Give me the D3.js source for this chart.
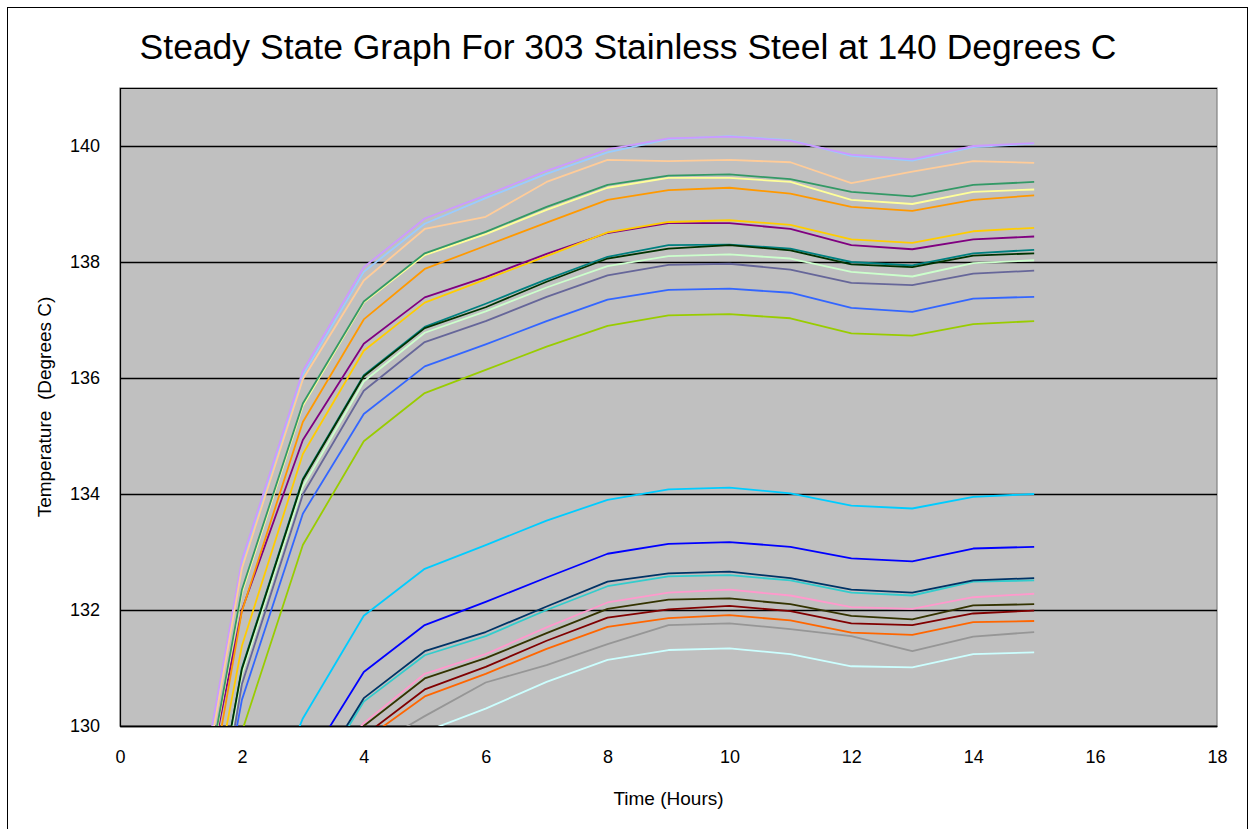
<!DOCTYPE html>
<html>
<head>
<meta charset="utf-8">
<script src="https://cdn.jsdelivr.net/npm/d3@7"></script>
<style>
body { margin: 0; background: #fff; }
svg text { font-family: "Liberation Sans", Arial, sans-serif; fill: #000; }
</style>
</head>
<body>
<div id="chart"></div>
<script>
// steady state readings, one value per hour (null = not logged yet)
var hours = [1, 2, 3, 4, 5, 6, 7, 8, 9, 10, 11, 12, 13, 14, 15];
var xTicks = [0, 2, 4, 6, 8, 10, 12, 14, 16, 18];
var yTicks = [130, 132, 134, 136, 138, 140];

var series1  = [126.74, 132.0, 134.93, 136.59, 137.39, 137.74, 138.14, 138.50, 138.67, 138.67, 138.57, 138.29, 138.22, 138.39, 138.44];
var series2  = [null, null, null, 129.83, 130.63, 131.02, 131.47, 131.87, 132.01, 132.07, 131.98, 131.77, 131.74, 131.94, 131.99];
var series3  = [125.1, 131.0, 134.26, 136.05, 136.88, 137.28, 137.70, 138.09, 138.29, 138.30, 138.23, 138.0, 137.94, 138.15, 138.21];
var series4  = [null, null, 129.24, 130.93, 131.74, 132.14, 132.56, 132.97, 133.14, 133.17, 133.09, 132.89, 132.84, 133.06, 133.09];
var series5  = [null, 127.53, 130.13, 131.90, 132.71, 133.12, 133.54, 133.90, 134.08, 134.11, 134.01, 133.80, 133.75, 133.95, 134.0];
var series6  = [null, null, null, null, 129.9, 130.30, 130.76, 131.14, 131.31, 131.34, 131.24, 131.03, 131.01, 131.24, 131.27];
var series7  = [124.9, 130.9, 134.13, 135.94, 136.78, 137.15, 137.56, 137.93, 138.10, 138.13, 138.06, 137.83, 137.75, 137.98, 138.03];
var series8  = [126.5, 132.3, 135.52, 137.30, 138.12, 138.48, 138.90, 139.28, 139.45, 139.45, 139.38, 139.07, 139.0, 139.21, 139.25];
var series9  = [126.9, 132.8, 136.05, 137.83, 138.66, 139.10, 139.52, 139.89, 140.12, 140.17, 140.10, 139.83, 139.75, 139.98, 140.04];
var series10 = [null, null, 128.8, 130.05, 130.90, 131.24, 131.70, 132.13, 132.30, 132.35, 132.25, 132.05, 132.02, 132.22, 132.28];
var series11 = [127.0, 132.86, 136.12, 137.91, 138.75, 139.15, 139.57, 139.94, 140.13, 140.16, 140.09, 139.85, 139.77, 140.0, 140.05];
var series12 = [126.74, 132.72, 135.98, 137.68, 138.57, 138.78, 139.38, 139.76, 139.74, 139.76, 139.72, 139.36, 139.56, 139.74, 139.71];
var series13 = [124.8, 130.45, 133.66, 135.38, 136.20, 136.58, 136.98, 137.35, 137.52, 137.54, 137.47, 137.21, 137.14, 137.37, 137.40];
var series14 = [null, null, 128.7, 130.42, 131.22, 131.55, 132.0, 132.41, 132.58, 132.60, 132.51, 132.30, 132.25, 132.49, 132.51];
var series15 = [124.0, 129.9, 133.12, 134.91, 135.74, 136.14, 136.54, 136.90, 137.08, 137.10, 137.03, 136.77, 136.73, 136.93, 136.98];
var series16 = [125.86, 131.38, 134.69, 136.47, 137.30, 137.70, 138.10, 138.51, 138.69, 138.72, 138.64, 138.39, 138.33, 138.53, 138.59];
var series17 = [125.98, 131.98, 135.24, 137.01, 137.88, 138.28, 138.68, 139.07, 139.24, 139.28, 139.18, 138.95, 138.88, 139.07, 139.15];
var series18 = [null, null, null, 129.75, 130.51, 130.90, 131.33, 131.71, 131.86, 131.91, 131.82, 131.61, 131.57, 131.79, 131.81];
var series19 = [124.46, 130.72, 133.99, 135.78, 136.62, 136.98, 137.40, 137.77, 137.95, 137.97, 137.87, 137.64, 137.60, 137.80, 137.85];
var series20 = [null, null, null, 129.56, 130.17, 130.75, 131.05, 131.41, 131.74, 131.77, 131.67, 131.55, 131.29, 131.54, 131.62];
var series21 = [null, null, 128.77, 130.48, 131.29, 131.62, 132.06, 132.49, 132.63, 132.66, 132.55, 132.35, 132.30, 132.51, 132.55];
var series22 = [126.55, 132.35, 135.56, 137.32, 138.15, 138.52, 138.95, 139.33, 139.49, 139.51, 139.43, 139.21, 139.13, 139.33, 139.38];
var series23 = [125.2, 130.98, 134.24, 136.03, 136.86, 137.22, 137.66, 138.06, 138.23, 138.29, 138.20, 137.96, 137.91, 138.11, 138.15];
var series24 = [null, null, 128.8, 130.0, 130.82, 131.17, 131.60, 132.02, 132.18, 132.20, 132.10, 131.90, 131.84, 132.08, 132.10];

var allSeries = [series1, series2, series3, series4, series5, series6, series7, series8,
	series9, series10, series11, series12, series13, series14, series15, series16,
	series17, series18, series19, series20, series21, series22, series23, series24];

// excel default line colours, same order as the series
var colors = ['#800080', '#800000', '#008080', '#0000FF', '#00CCFF', '#CCFFFF', '#CCFFCC', '#FFFF99',
	'#99CCFF', '#FF99CC', '#CC99FF', '#FFCC99', '#3366FF', '#33CCCC', '#99CC00', '#FFCC00',
	'#FF9900', '#FF6600', '#666699', '#969696', '#003366', '#339966', '#003300', '#333300'];

var W = 1250, H = 829;
// note: "top" is taken by window.top, so use other names
var plotL = 120, plotR = 1217, plotT = 88, plotB = 726;

var svg = d3.select('#chart').append('svg')
	.attr('width', W)
	.attr('height', H);

// outer chart frame
svg.append('rect')
	.attr('x', 7.5).attr('y', 7.5)
	.attr('width', 1240).attr('height', 840)
	.attr('fill', '#fff')
	.attr('stroke', '#000')
	.attr('stroke-width', 1);

var xScale = d3.scaleLinear().domain([0, 18]).range([plotL, plotR]);
var yScale = d3.scaleLinear().domain([130, 141]).range([plotB, plotT]);

// plot area
svg.append('rect')
	.attr('x', plotL).attr('y', plotT)
	.attr('width', plotR - plotL).attr('height', plotB - plotT)
	.attr('fill', '#C0C0C0')
	.attr('stroke', '#808080')
	.attr('stroke-width', 1.2);

// gridlines + y labels
var yAxis = svg.append('g')
	.attr('transform', 'translate(' + plotL + ',0)')
	.call(d3.axisLeft(yScale).tickValues(yTicks).tickSize(-(plotR - plotL)).tickPadding(20).tickFormat(d3.format('d')));
yAxis.select('.domain').attr('stroke', '#000').attr('stroke-width', 1.2);
yAxis.selectAll('.tick line').attr('stroke', '#000').attr('stroke-width', 1.3);
yAxis.selectAll('.tick text').attr('font-size', 18).attr('font-family', '"Liberation Sans", Arial, sans-serif');

var xAxis = svg.append('g')
	.attr('transform', 'translate(0,' + plotB + ')')
	.call(d3.axisBottom(xScale).tickValues(xTicks).tickSize(0).tickPadding(24).tickFormat(d3.format('d')));
xAxis.select('.domain').attr('stroke', '#000').attr('stroke-width', 1.3);
xAxis.selectAll('.tick text').attr('font-size', 18).attr('font-family', '"Liberation Sans", Arial, sans-serif');

svg.append('clipPath').attr('id', 'plotClip')
	.append('rect')
	.attr('x', plotL).attr('y', plotT)
	.attr('width', plotR - plotL).attr('height', plotB - plotT);

var line = d3.line()
	.defined(function(d){ return d != null; })
	.x(function(d, i){ return xScale(hours[i]); })
	.y(function(d){ return yScale(d); });

svg.append('g')
	.attr('clip-path', 'url(#plotClip)')
	.selectAll('path')
	.data(allSeries)
	.enter()
	.append('path')
	.attr('d', line)
	.attr('fill', 'none')
	.attr('stroke', function(d, i){ return colors[i]; })
	.attr('stroke-width', 1.8)
	.attr('stroke-linejoin', 'round');

// titles
svg.append('text')
	.attr('x', 628).attr('y', 59)
	.attr('text-anchor', 'middle')
	.attr('font-size', 35.5)
	.text('Steady State Graph For 303 Stainless Steel at 140 Degrees C');

svg.append('text')
	.attr('x', (plotL + plotR) / 2).attr('y', 805)
	.attr('text-anchor', 'middle')
	.attr('font-size', 19)
	.text('Time (Hours)');

svg.append('text')
	.attr('transform', 'translate(51,' + ((plotT + plotB) / 2) + ') rotate(-90)')
	.attr('text-anchor', 'middle')
	.attr('font-size', 19)
	.style('white-space', 'pre')
	.text('Temperature  (Degrees C)');
</script>
</body>
</html>
